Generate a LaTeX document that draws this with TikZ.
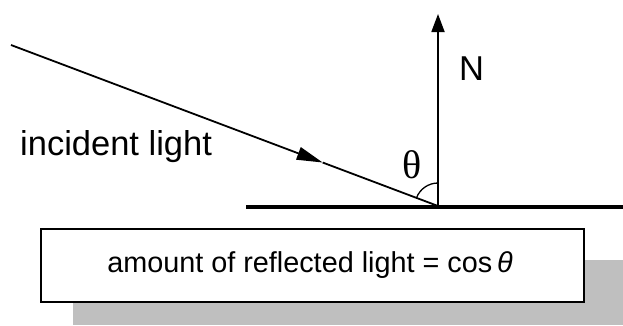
\documentclass[tikz,border=0pt]{standalone}
\usepackage{fontspec}
\setmainfont{Liberation Sans}
\newfontfamily\thetafont{Liberation Serif}
\usetikzlibrary{arrows.meta,calc}
\begin{document}
\begin{tikzpicture}[x=1pt,y=-1pt,
  ray/.style={line width=1.8pt},
  ground/.style={line width=3.8pt},
  lbl/.style={inner sep=0pt,font=\fontsize{34.5}{38}\selectfont},
  shadowbox/.style={fill=black!25,draw=none},
  mainbox/.style={draw,line width=1.8pt,fill=white,minimum width=543pt,minimum height=73pt,inner sep=0pt}]
\useasboundingbox (0,0) rectangle (623,325);
% geometry
\coordinate (s) at (11,45);
\coordinate (v) at (438,206);
\coordinate (m) at ($(s)!0.73!(v)$);
\coordinate (ntop) at (438,14);
\coordinate (gl) at (246,207);
\coordinate (gr) at (623,207);
% shadow and box
\fill[shadowbox] (73,260) rectangle (623,325);
\node[mainbox] (box) at (312.5,265.5) {};
\node[inner sep=0pt,anchor=base,font=\fontsize{28.8}{32}\selectfont] (eq) at (310,272) {amount of reflected light = cos\,\textit{θ}};
% ground
\draw[ground] (gl) -- (gr);
% normal
\draw[ray,-{Triangle[length=18pt,width=13pt]}] (v) -- (ntop);
% incident ray
\draw[ray,-{Triangle[length=26pt,width=13pt]}] (s) -- (m);
\draw[ray] (m) -- (v);
% angle arc
\draw[line width=1.3pt] ($(v)+(0,-23)$) arc[start angle=90,end angle=159,radius=23pt];
% labels
\node[lbl,anchor=base west] (inc) at (20,155) {incident light};
\node[lbl,anchor=base west] (N) at (459,80) {N};
\node[inner sep=0pt,font=\thetafont\fontsize{40}{44}\selectfont] (th) at (412,165) {θ};
\end{tikzpicture}
\end{document}
